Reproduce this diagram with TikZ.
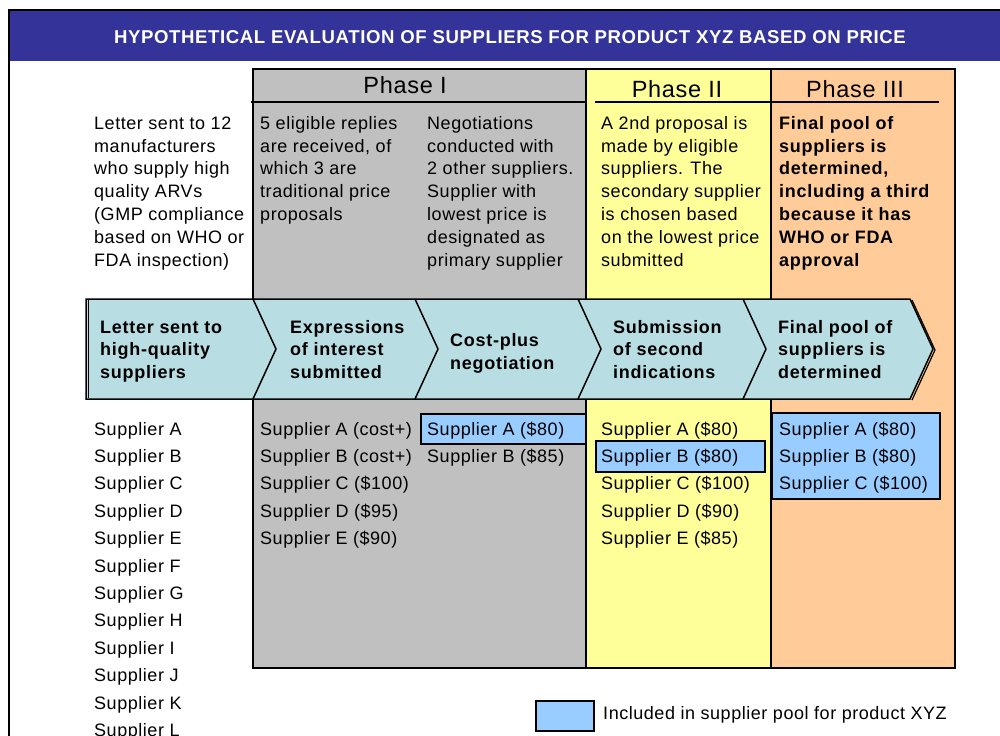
\documentclass[tikz,border=0pt]{standalone}
\usepackage{fontspec}
\newfontfamily\rgfont[LetterSpace=3]{Liberation Sans}
\newfontfamily\bdfont[LetterSpace=4]{Liberation Sans}
\newfontfamily\hdfont[LetterSpace=3.2]{Liberation Sans}
\definecolor{hdrblue}{RGB}{51,51,153}
\definecolor{phgray}{RGB}{192,192,192}
\definecolor{phyellow}{RGB}{255,255,153}
\definecolor{phorange}{RGB}{255,204,153}
\definecolor{chev}{RGB}{184,222,227}
\definecolor{pool}{RGB}{153,204,255}
\tikzset{
  txt/.style={anchor=base west, inner sep=0pt, font=\rgfont\fontsize{18bp}{22bp}\selectfont},
  btxt/.style={anchor=base west, inner sep=0pt, font=\bdfont\bfseries\fontsize{18bp}{22bp}\selectfont},
  phasetitle/.style={anchor=base, inner sep=0pt, font=\rgfont\fontsize{23.5bp}{26bp}\selectfont},
  phasebox/.style={draw=black, line width=1.5bp},
  poolbox/.style={draw=black, line width=1.5bp, fill=pool},
  phaseline/.style={line width=2.5bp},
}
\newcommand\txtcol[6]{% style, name prefix, x, y0, step, list
  \foreach \ln [count=\k] in {#6} {\node[#1, name=#2\k] at (#3, {#4+#5*(\k-1)}) {\ln};}}
\begin{document}
\begin{tikzpicture}[x=1bp,y=-1bp]
\useasboundingbox (0,0) rectangle (1000,736);
% frame and header
\fill[hdrblue] (9,10) rectangle (1000,61);
\draw[line width=1.2bp] (9,736) -- (9,10) -- (1000,10);
\node[anchor=base, inner sep=0pt, text=white, font=\hdfont\bfseries\fontsize{18.6bp}{22bp}\selectfont] (title) at (510,43.3)
  {HYPOTHETICAL EVALUATION OF SUPPLIERS FOR PRODUCT XYZ BASED ON PRICE};
% phases
\filldraw[phasebox, fill=phgray] (253,69) rectangle (586,668);
\filldraw[phasebox, fill=phyellow] (586,69) rectangle (771,668);
\filldraw[phasebox, fill=phorange] (771,69) rectangle (955,668);
\draw[phaseline] (251,102) -- (586,102);
\draw[phaseline] (595,102) -- (771,102);
\draw[phaseline] (771,102) -- (939,102);
\node[phasetitle] (p1) at (405,94) {Phase I};
\node[phasetitle] (p2) at (677,98) {Phase II};
\node[phasetitle] (p3) at (855,98) {Phase III};
% top descriptions
\txtcol{txt}{la}{94}{129.3}{22.8}{Letter sent to 12,manufacturers,who supply high,quality ARVs,{(GMP compliance},based on WHO or,FDA inspection)}
\txtcol{txt}{pa}{260}{129.3}{22.8}{5 eligible replies,{are received, of},which 3 are,traditional price,proposals}
\txtcol{txt}{pb}{427}{129.3}{22.8}{Negotiations,conducted with,2 other suppliers.,Supplier with,lowest price is,designated as,primary supplier}
\txtcol{txt}{pc}{601}{129.3}{22.8}{A 2nd proposal is,made by eligible,suppliers. The,secondary supplier,is chosen based,on the lowest price,submitted}
\txtcol{btxt}{pd}{779}{129.3}{22.8}{Final pool of,suppliers is,{determined,},including a third,because it has,WHO or FDA,approval}
% chevron band
\filldraw[fill=chev, draw=black, line width=1.5bp] (86,299) -- (910,299) -- (933,349) -- (910,399) -- (86,399) -- cycle;
\draw[line width=1.2bp] (912,300) -- (935,350) -- (912,400);
\draw[line width=1bp] (88.5,300) -- (88.5,398);
\foreach \cx in {253,415,578,743} {\draw[line width=1.5bp] (\cx,299) -- (\cx+23,349) -- (\cx,399);}
\txtcol{btxt}{ca}{100}{333}{22.5}{Letter sent to,high-quality,suppliers}
\txtcol{btxt}{cb}{290}{333}{22.5}{Expressions,of interest,submitted}
\txtcol{btxt}{cc}{450}{346}{23}{Cost-plus,negotiation}
\txtcol{btxt}{cd}{613}{333}{22.5}{Submission,of second,indications}
\txtcol{btxt}{ce}{778}{333}{22.5}{Final pool of,suppliers is,determined}
% pool boxes
\draw[poolbox] (421,414) rectangle (586,444);
\draw[poolbox] (596,441) rectangle (765,472);
\draw[poolbox] (772,413) rectangle (940,499);
% supplier lists
\txtcol{txt}{sa}{94}{435}{27.4}{Supplier A,Supplier B,Supplier C,Supplier D,Supplier E,Supplier F,Supplier G,Supplier H,Supplier I,Supplier J,Supplier K,Supplier L}
\txtcol{txt}{sb}{260}{435}{27.4}{Supplier A (cost+),Supplier B (cost+),Supplier C (\$100),Supplier D (\$95),Supplier E (\$90)}
\txtcol{txt}{sc}{427}{435}{27.4}{Supplier A (\$80),Supplier B (\$85)}
\txtcol{txt}{sd}{601}{435}{27.4}{Supplier A (\$80),Supplier B (\$80),Supplier C (\$100),Supplier D (\$90),Supplier E (\$85)}
\txtcol{txt}{se}{779}{435}{27.4}{Supplier A (\$80),Supplier B (\$80),Supplier C (\$100)}
% legend
\draw[poolbox] (536,701) rectangle (594,731);
\node[txt] (legend) at (603,719) {Included in supplier pool for product XYZ};
\end{tikzpicture}
\end{document}
